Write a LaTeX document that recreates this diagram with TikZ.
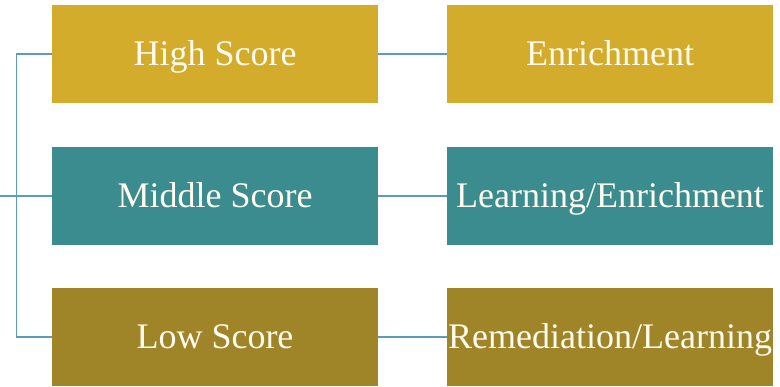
\documentclass[tikz,border=0pt]{standalone}
\usepackage{fontspec}
\setmainfont{Liberation Serif}
\definecolor{goldbox}{RGB}{212,172,43}
\definecolor{tealbox}{RGB}{59,140,143}
\definecolor{olivebox}{RGB}{160,132,40}
\definecolor{linkblue}{RGB}{91,155,189}
\definecolor{boxtext}{RGB}{255,251,238}
\tikzset{
  scorebox/.style={minimum width=326pt, minimum height=98pt, inner sep=0pt,
    text height=27pt, text depth=5pt,
    text=boxtext, font=\fontsize{36}{36}\selectfont},
  link/.style={linkblue, line width=1.3pt}
}
\begin{document}
\begin{tikzpicture}[x=1pt,y=-1pt]
  \useasboundingbox (0,0) rectangle (780,386);
  %punteggi
  \node[scorebox, fill=goldbox] (high) at (215,54) {High Score};
  \node[scorebox, fill=tealbox] (middle) at (215,196) {Middle Score};
  \node[scorebox, fill=olivebox] (low) at (215,337) {Low Score};
  %interventi
  \node[scorebox, fill=goldbox] (enrich) at (610,54) {Enrichment};
  \node[scorebox, fill=tealbox] (learnenrich) at (610,196) {Learning/Enrichment};
  \node[scorebox, fill=olivebox] (remlearn) at (610,337) {Remediation/Learning};
  %collegamenti
  \coordinate (root) at (0,196);
  \draw[link] (root) -- (middle.west);
  \draw[link] (high.west) -- ++(-35,0) |- (low.west);
  \draw[link] (high.east) -- (enrich.west);
  \draw[link] (middle.east) -- (learnenrich.west);
  \draw[link] (low.east) -- (remlearn.west);
\end{tikzpicture}
\end{document}
